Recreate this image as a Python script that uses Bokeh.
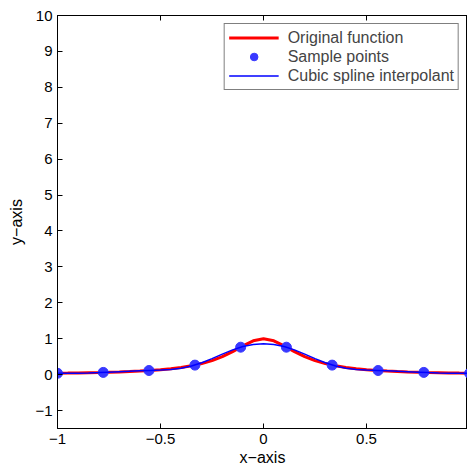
from bokeh.plotting import figure
from bokeh.models import (Range1d, FixedTicker, LinearAxis, Legend, LegendItem,
                          CustomJSTickFormatter)
from bokeh.embed import file_html
from bokeh.resources import INLINE

# ---- data ----
x_fine = [-1.0, -0.95, -0.9, -0.85, -0.8, -0.75, -0.7, -0.65, -0.6, -0.55, -0.5,
          -0.45, -0.4, -0.35, -0.3, -0.25, -0.2, -0.15, -0.1, -0.05, 0.0,
          0.05, 0.1, 0.15, 0.2, 0.25, 0.3, 0.35, 0.4, 0.45, 0.5,
          0.55, 0.6, 0.65, 0.7, 0.75, 0.8, 0.85, 0.9, 0.95, 1.0]
y_original = [0.038, 0.042, 0.047, 0.053, 0.059, 0.066, 0.075, 0.087, 0.100, 0.117, 0.138,
              0.165, 0.200, 0.246, 0.308, 0.390, 0.500, 0.640, 0.800, 0.941, 1.000,
              0.941, 0.800, 0.640, 0.500, 0.390, 0.308, 0.246, 0.200, 0.165, 0.138,
              0.117, 0.100, 0.087, 0.075, 0.066, 0.059, 0.053, 0.047, 0.042, 0.038]
y_spline = [0.038, 0.038, 0.041, 0.048, 0.057, 0.069, 0.081, 0.093, 0.105, 0.116, 0.126,
            0.144, 0.179, 0.238, 0.330, 0.446, 0.572, 0.689, 0.782, 0.838, 0.857,
            0.838, 0.782, 0.689, 0.572, 0.446, 0.330, 0.238, 0.179, 0.144, 0.126,
            0.116, 0.105, 0.093, 0.081, 0.069, 0.057, 0.048, 0.041, 0.038, 0.038]
x_samples = [-1.0, -0.778, -0.556, -0.333, -0.111, 0.111, 0.333, 0.556, 0.778, 1.0]
y_samples = [0.038, 0.062, 0.115, 0.265, 0.764, 0.764, 0.265, 0.115, 0.062, 0.038]

x_ticks = [-1, -0.5, 0, 0.5, 1]
x_tick_labels = ["\u22121", "\u22120.5", "0", "0.5", "1"]
y_ticks = [-1, 0, 1, 2, 3, 4, 5, 6, 7, 8, 9, 10]
y_tick_labels = ["\u22121", "0", "1", "2", "3", "4", "5", "6", "7", "8", "9", "10"]

FONT = "Liberation Sans"
FS = "15px"
FS_LABEL = "16px"

p = figure(width=467, height=470, output_backend="svg", toolbar_location=None,
           x_range=Range1d(-1, 0.990), y_range=Range1d(-1.5, 10),
           min_border_left=57, min_border_right=0, min_border_top=15, min_border_bottom=42)
p.background_fill_color = "white"
p.border_fill_color = "white"
p.outline_line_color = "black"
p.outline_line_width = 1
p.xgrid.visible = False
p.ygrid.visible = False

l1 = p.line(x_fine, y_original, line_color="#ff0000", line_width=3)
s1 = p.scatter(x_samples, y_samples, size=10, fill_color="#3838ff", line_color="#3838ff")
l2 = p.line(x_fine, y_spline, line_color="#0000ff", line_width=1.5)

for ax in (p.xaxis[0], p.yaxis[0]):
    ax.major_tick_in = 5
    ax.major_tick_out = 0
    ax.minor_tick_line_color = None
    ax.axis_line_color = "black"
    ax.major_tick_line_color = "black"
    ax.major_label_text_font = FONT
    ax.major_label_text_font_size = FS
    ax.major_label_text_color = "black"
    ax.axis_label_text_font = FONT
    ax.axis_label_text_font_size = FS_LABEL
    ax.axis_label_text_font_style = "normal"
    ax.axis_label_text_color = "black"

p.xaxis[0].ticker = FixedTicker(ticks=x_ticks)
p.xaxis[0].major_label_overrides = dict(zip(x_ticks, x_tick_labels))
p.xaxis[0].major_label_standoff = 5
p.xaxis[0].axis_label = "x\u2212axis"
p.xaxis[0].axis_label_standoff = 2

p.yaxis[0].ticker = FixedTicker(ticks=y_ticks)
p.yaxis[0].major_label_overrides = dict(zip(y_ticks, y_tick_labels))
p.yaxis[0].major_label_standoff = 5
p.yaxis[0].axis_label = "y\u2212axis"
p.yaxis[0].axis_label_standoff = 7

top = LinearAxis(ticker=FixedTicker(ticks=x_ticks),
                 formatter=CustomJSTickFormatter(code="return ''"),
                 major_tick_in=5, major_tick_out=0, minor_tick_line_color=None,
                 major_label_standoff=0, major_label_text_font_size="1px",
                 axis_line_color="black")
p.add_layout(top, "above")

legend = Legend(items=[LegendItem(label="Original function", renderers=[l1]),
                       LegendItem(label="Sample points", renderers=[s1]),
                       LegendItem(label="Cubic spline interpolant", renderers=[l2])],
                location="top_right")
legend.margin = 8
legend.padding = 4
legend.spacing = 0
legend.glyph_width = 50
legend.glyph_height = 19
legend.label_height = 19
legend.label_standoff = 9
legend.label_text_font = FONT
legend.label_text_font_size = "16px"
legend.border_line_color = "black"
legend.border_line_width = 1
legend.background_fill_alpha = 1
p.add_layout(legend, "center")

open("out.html", "w").write(file_html(p, INLINE))
